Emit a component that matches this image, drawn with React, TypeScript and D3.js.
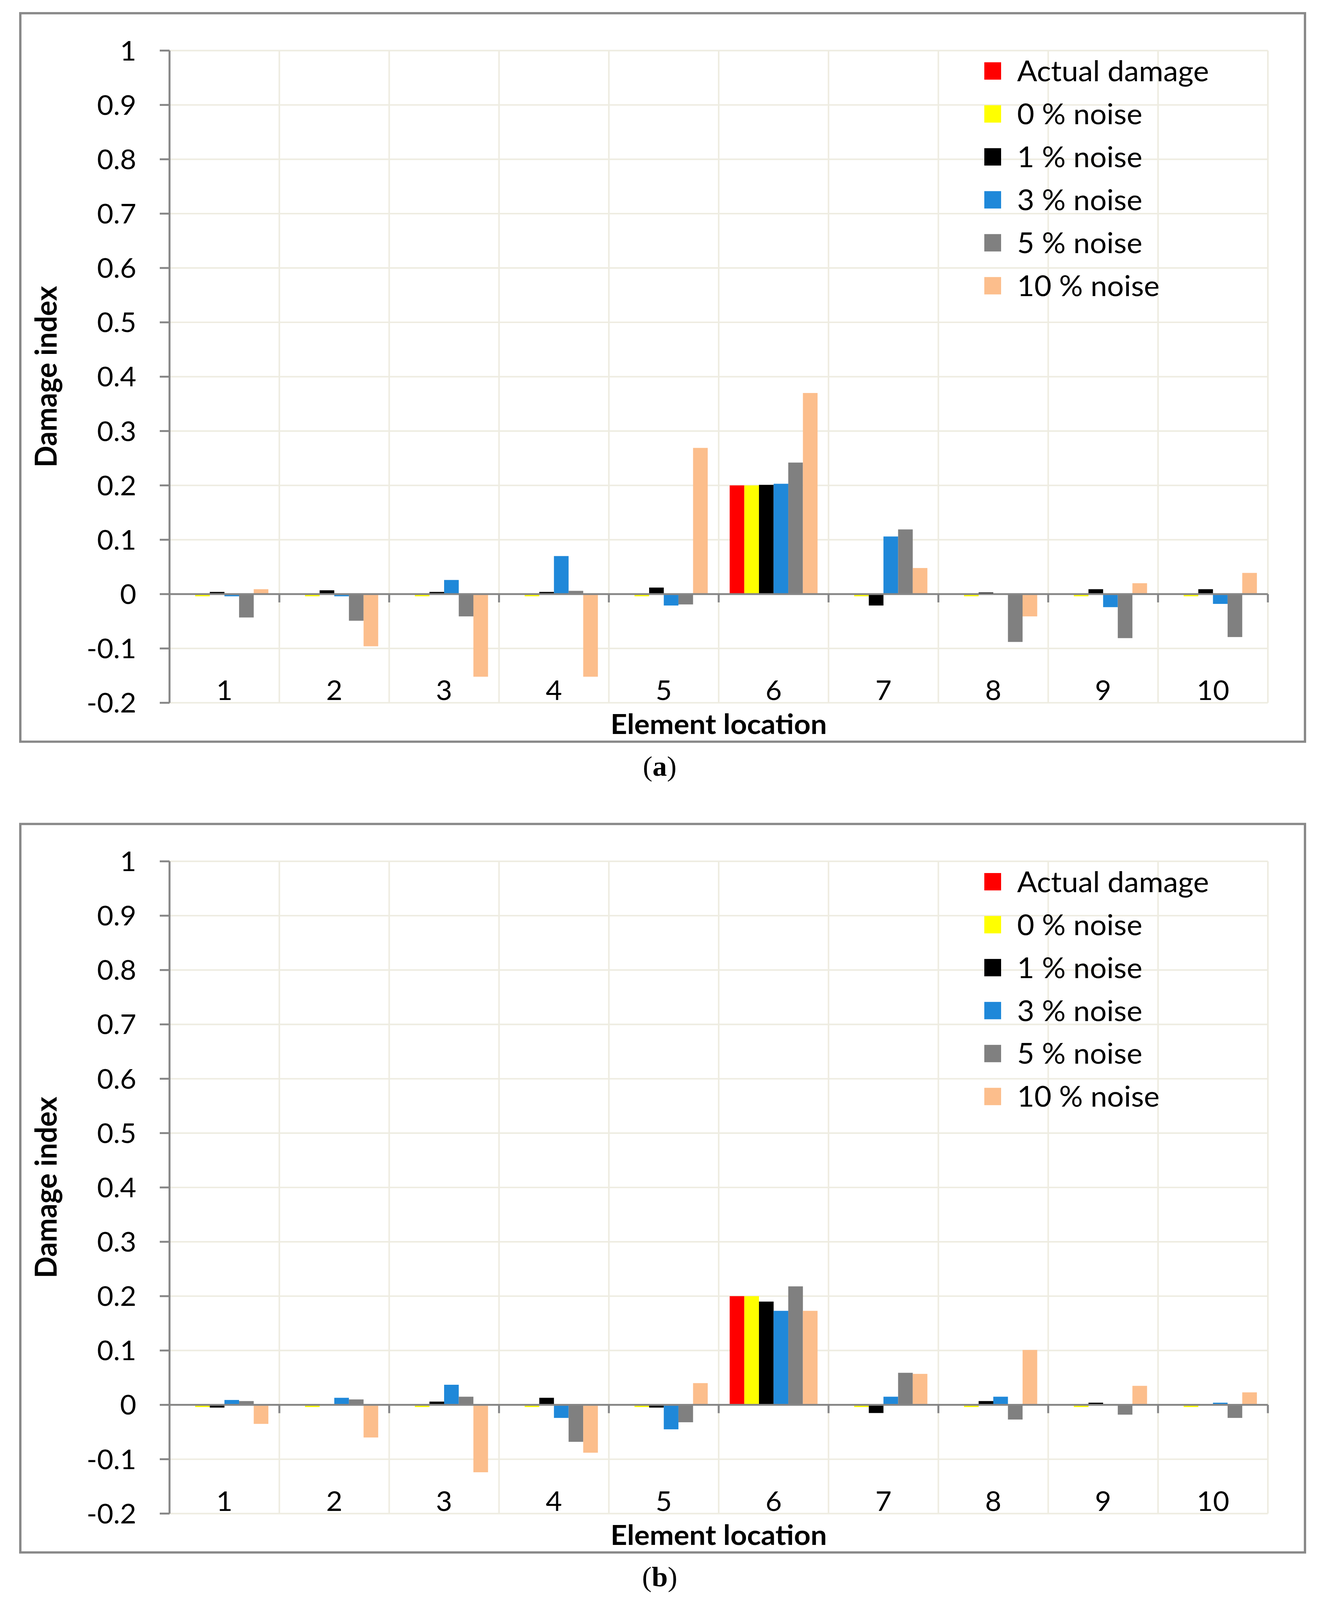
import React from 'react';
import * as d3 from 'd3';

// element locations along the beam
const categories = ['1', '2', '3', '4', '5', '6', '7', '8', '9', '10'];
const seriesNames = ['Actual damage', '0 % noise', '1 % noise', '3 % noise', '5 % noise', '10 % noise'];
const seriesColors = ['#FF0000', '#FFFF00', '#000000', '#1F88D9', '#808080', '#FCBE8C'];

const yTickValues = [-0.2, -0.1, 0, 0.1, 0.2, 0.3, 0.4, 0.5, 0.6, 0.7, 0.8, 0.9, 1];
const yTickLabels = ['-0.2', '-0.1', '0', '0.1', '0.2', '0.3', '0.4', '0.5', '0.6', '0.7', '0.8', '0.9', '1'];

// panel (a)
const actualA = [0, 0, 0, 0, 0, 0.2, 0, 0, 0, 0];
const noise0A = [-0.004, -0.004, -0.004, -0.004, -0.004, 0.2, -0.004, -0.004, -0.004, -0.004];
const noise1A = [0.004, 0.007, 0.004, 0.004, 0.012, 0.201, -0.021, 0.003, 0.009, 0.009];
const noise3A = [-0.004, -0.004, 0.026, 0.07, -0.021, 0.203, 0.106, 0, -0.024, -0.018];
const noise5A = [-0.043, -0.049, -0.041, 0.006, -0.019, 0.242, 0.119, -0.088, -0.081, -0.079];
const noise10A = [0.009, -0.096, -0.152, -0.152, 0.269, 0.37, 0.048, -0.041, 0.02, 0.039];

// panel (b)
const actualB = [0, 0, 0, 0, 0, 0.2, 0, 0, 0, 0];
const noise0B = [-0.004, -0.004, -0.004, -0.004, -0.004, 0.2, -0.004, -0.004, -0.004, -0.004];
const noise1B = [-0.005, 0, 0.006, 0.013, -0.005, 0.19, -0.015, 0.007, 0.004, 0];
const noise3B = [0.009, 0.013, 0.037, -0.024, -0.045, 0.173, 0.015, 0.015, 0, 0.004];
const noise5B = [0.007, 0.01, 0.015, -0.068, -0.032, 0.218, 0.059, -0.027, -0.018, -0.024];
const noise10B = [-0.035, -0.06, -0.124, -0.088, 0.04, 0.173, 0.057, 0.101, 0.035, 0.023];

const panels = [
  { caption: 'a', offset: 0, series: [actualA, noise0A, noise1A, noise3A, noise5A, noise10A] },
  { caption: 'b', offset: 2148, series: [actualB, noise0B, noise1B, noise3B, noise5B, noise10B] },
];

const W = 3382;
const H = 4239;
const plot = { left: 434, right: 3246, top: 134, bottom: 1862 };
const font = "Lato, 'Open Sans', sans-serif";
const gridColor = '#EEECE1';
const axisColor = '#868686';

const x = d3.scaleBand<string>().domain(categories).range([plot.left, plot.right]).padding(0);
const xInner = d3.scaleBand<number>()
  .domain(d3.range(seriesNames.length))
  .range([0, x.bandwidth()])
  .paddingInner(0)
  .paddingOuter(0.75);
const y = d3.scaleLinear().domain([-0.2, 1]).range([plot.bottom, plot.top]);

const Panel: React.FC<{ caption: string; offset: number; series: number[][] }> = ({ caption, offset, series }) => {
  const y0 = y(0);
  const boundaries = categories.map((c) => (x(c) as number) + x.bandwidth());
  return (
    <g transform={`translate(0,${offset})`}>
      <rect x={52} y={35} width={3289} height={1930} fill="#fff" stroke="#898989" strokeWidth={6} />

      {/* grid */}
      {yTickValues.map((v) => (
        <line key={'h' + v} x1={plot.left} x2={plot.right} y1={y(v)} y2={y(v)} stroke={gridColor} strokeWidth={4} />
      ))}
      {boundaries.map((bx, i) => (
        <line key={'v' + i} x1={bx} x2={bx} y1={plot.top} y2={plot.bottom} stroke={gridColor} strokeWidth={4} />
      ))}

      {/* bars */}
      {series.map((vals, si) =>
        vals.map((v, ci) => (
          <rect
            key={si + '-' + ci}
            x={(x(categories[ci]) as number) + (xInner(si) as number)}
            y={Math.min(y(v), y0)}
            width={xInner.bandwidth()}
            height={Math.abs(y(v) - y0)}
            fill={seriesColors[si]}
          />
        ))
      )}

      {/* y axis */}
      <line x1={plot.left} x2={plot.left} y1={plot.top} y2={plot.bottom} stroke={axisColor} strokeWidth={5} />
      {yTickValues.map((v, i) => (
        <g key={'t' + v}>
          <line x1={plot.left - 25} x2={plot.left} y1={y(v)} y2={y(v)} stroke={axisColor} strokeWidth={5} />
          <text x={349} y={y(v)} dy="0.36em" textAnchor="end" fontFamily={font} fontSize={72} fill="#000">
            {yTickLabels[i]}
          </text>
        </g>
      ))}

      {/* zero axis */}
      <line x1={plot.left} x2={plot.right} y1={y0} y2={y0} stroke={axisColor} strokeWidth={5} />
      {boundaries.map((bx, i) => (
        <line key={'zt' + i} x1={bx} x2={bx} y1={y0} y2={y0 + 22} stroke={axisColor} strokeWidth={5} />
      ))}

      {categories.map((c) => (
        <text key={'c' + c} x={(x(c) as number) + x.bandwidth() / 2} y={plot.bottom - 7} textAnchor="middle"
          fontFamily={font} fontSize={72} fill="#000">
          {c}
        </text>
      ))}

      <text x={(plot.left + plot.right) / 2} y={1945} textAnchor="middle" fontFamily={font} fontSize={74}
        fontWeight="bold" fill="#000">
        Element location
      </text>
      <text transform={`translate(145,${(plot.top + plot.bottom) / 2}) rotate(-90)`} textAnchor="middle"
        fontFamily={font} fontSize={76} fontWeight="bold" fill="#000">
        Damage index
      </text>

      {/* legend */}
      {seriesNames.map((name, i) => {
        const cy = 188 + i * 113.8;
        return (
          <g key={'l' + i}>
            <rect x={2520} y={cy - 23} width={43} height={46} fill={seriesColors[i]} />
            <text x={2604} y={cy} dy="0.36em" fontFamily={font} fontSize={76} fill="#000">{name}</text>
          </g>
        );
      })}

      <text x={1689} y={2055} textAnchor="middle" fontFamily="'Liberation Serif', 'DejaVu Serif', serif" fontSize={74} fill="#000">
        (<tspan fontWeight="bold">{caption}</tspan>)
      </text>
    </g>
  );
};

export default function App() {
  // the visible page is shorter than the figure, so squeeze it vertically to keep it all on screen
  const viewH = typeof window !== 'undefined' ? Math.min(H, window.innerHeight) : H;
  return (
    <svg width={W} height={viewH} viewBox={`0 0 ${W} ${H}`} preserveAspectRatio="none"
      style={{ position: 'absolute', left: 0, top: 0, display: 'block', background: '#fff' }}>
      <rect width={W} height={H} fill="#fff" />
      {panels.map((p) => (
        <Panel key={p.caption} caption={p.caption} offset={p.offset} series={p.series} />
      ))}
    </svg>
  );
}
